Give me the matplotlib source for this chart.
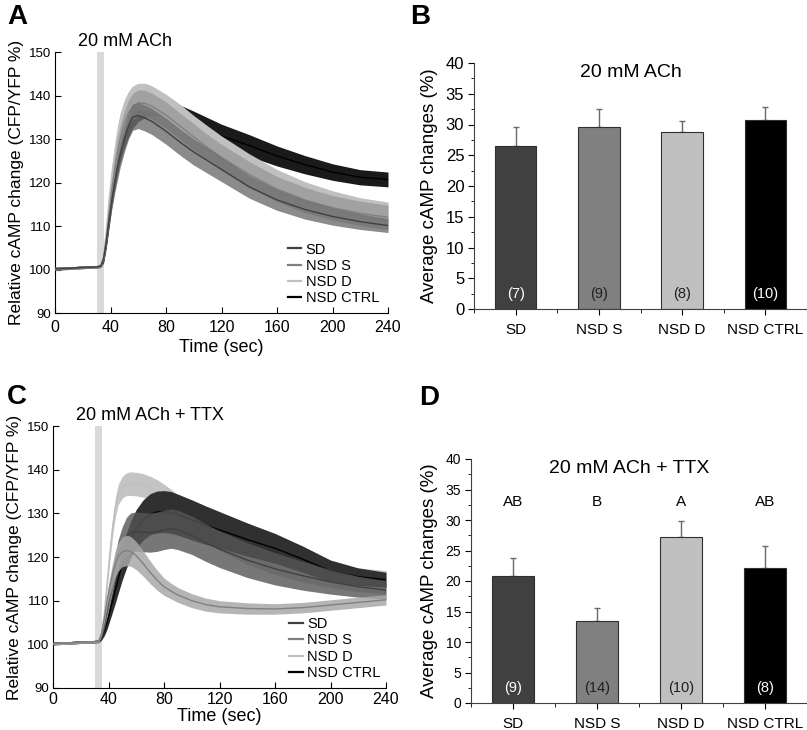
import numpy as np
import matplotlib
matplotlib.use("Agg")
import matplotlib.pyplot as plt
from matplotlib.lines import Line2D
from matplotlib.ticker import MultipleLocator, FixedLocator

plt.rcParams['font.family'] = ['Liberation Sans', 'DejaVu Sans']

groups = ['SD', 'NSD S', 'NSD D', 'NSD CTRL']
line_colors = ['#404040', '#808080', '#c0c0c0', '#000000']
bar_colors = ['#404040', '#808080', '#c0c0c0', '#000000']

# ---- panel A: 20 mM ACh time course (mean and sem)
t_a = [0, 10, 20, 30, 33, 35, 37, 39, 41, 43, 45, 47, 50, 53, 56, 60, 65, 70,
       80, 90, 100, 110, 120, 140, 160, 180, 200, 220, 240]
sd_a = [100.2, 100.3, 100.5, 100.6, 100.8, 102.5, 106.5, 111.5, 116, 120, 123.5, 126.5,
        130, 133, 135, 135.4, 134.8, 134, 131.8, 129.3, 127, 125, 123, 119, 116,
        113.8, 112.2, 111, 110.1]
sd_a_err = [0.3, 0.3, 0.3, 0.3, 0.3, 0.5, 1, 1.5, 2, 2.5, 3, 3, 3, 3, 3, 3, 3, 3,
            3, 3, 3, 2.9, 2.8, 2.6, 2.4, 2.2, 2, 1.8, 1.6]
nsds_a = [100.2, 100.3, 100.5, 100.6, 100.8, 102.5, 107, 113, 118.5, 123, 127, 130,
          133.5, 136, 137.5, 138.3, 138.2, 137.5, 135.5, 133, 130.5, 128, 125.8, 121.8,
          118.5, 116, 114.2, 112.9, 112]
nsds_a_err = [0.3, 0.3, 0.3, 0.3, 0.3, 0.5, 1, 1.5, 2, 2.5, 3, 3, 3, 3, 3, 3, 3, 3,
              3, 3, 3, 3, 3, 3, 2.9, 2.9, 2.8, 2.8, 2.8]
nsdd_a = [100.2, 100.3, 100.5, 100.6, 100.8, 103, 109, 116, 122, 126.5, 130, 133,
          136, 138, 139.2, 139.8, 139.8, 139.2, 137.3, 135, 132.5, 130.2, 128, 124,
          120.5, 117.8, 115.8, 114.3, 113.3]
nsdd_a_err = [0.3, 0.3, 0.3, 0.3, 0.3, 0.5, 1, 1.5, 2, 2.5, 3, 3, 3, 3, 3, 3, 3, 3,
              3, 3, 2.9, 2.8, 2.7, 2.6, 2.5, 2.4, 2.3, 2.2, 2.2]
ctrl_a = [100.2, 100.3, 100.5, 100.6, 100.8, 102, 106, 111, 116, 120, 123.5, 126.5,
          130, 132.5, 134.5, 136, 137, 137.5, 137, 135.5, 133.8, 132.2, 130.7, 128.5,
          126.1, 124.1, 122.4, 121.2, 120.7]
ctrl_a_err = [0.3, 0.3, 0.3, 0.3, 0.3, 0.5, 1, 1.2, 1.5, 1.7, 1.8, 1.9, 2, 2, 2, 2, 2, 2,
              2, 2.3, 2.6, 2.7, 2.7, 2.5, 2.3, 2.1, 1.9, 1.75, 1.7]

# ---- panel C: 20 mM ACh + TTX time course
t_c = [0, 10, 20, 30, 33, 35, 37, 39, 41, 43, 45, 47, 50, 53, 56, 60, 65, 70, 75,
       80, 85, 90, 100, 110, 120, 140, 160, 180, 200, 220, 240]
sd_c = [100.2, 100.3, 100.5, 100.6, 100.7, 102, 104.5, 108, 111.5, 115, 118, 120.5,
        123, 124.8, 125.6, 125.8, 125.7, 125.6, 125.8, 126.2, 126.5, 126.2, 125, 123.3,
        121.8, 119.3, 117.3, 115.7, 114.3, 113.2, 112.4]
sd_c_err = [0.3, 0.3, 0.3, 0.3, 0.3, 0.5, 1, 1.5, 2, 2.5, 3, 3.5, 4, 4.3, 4.5, 4.5,
            4.5, 4.5, 4.5, 4.5, 4.5, 4.5, 4.4, 4.3, 4.2, 4, 3.7, 3.3, 2.8, 2.4, 2.1]
nsds_c = [100.2, 100.3, 100.5, 100.6, 100.7, 102.5, 106, 110, 113.5, 116.3, 118.5, 120,
          121.2, 121.5, 121.3, 120.3, 118.5, 116.5, 114.7, 113.2, 112.2, 111.3, 110,
          109.1, 108.6, 108.2, 108.1, 108.4, 109, 109.6, 110.2]
nsds_c_err = [0.3, 0.3, 0.3, 0.3, 0.3, 0.5, 1, 1.5, 2, 2.5, 3, 3.2, 3.4, 3.5, 3.4, 3.2,
              2.9, 2.6, 2.3, 2, 1.8, 1.7, 1.6, 1.5, 1.4, 1.3, 1.2, 1.2, 1.2, 1.2, 1.2]
nsdd_c = [100.2, 100.3, 100.5, 100.6, 100.7, 102, 107, 114, 121, 127, 131.5, 134.3,
          136, 136.7, 136.8, 136.7, 136.4, 135.8, 135, 134, 132.8, 131.5, 128.8, 126.3,
          124.2, 121, 118.7, 117, 115.7, 114.8, 114.2]
nsdd_c_err = [0.3, 0.3, 0.3, 0.3, 0.3, 0.5, 1, 1.5, 2, 2, 2.2, 2.3, 2.5, 2.6, 2.7, 2.7,
              2.7, 2.7, 2.7, 2.7, 2.7, 2.7, 2.7, 2.7, 2.7, 2.7, 2.7, 2.7, 2.7, 2.7, 2.7]
ctrl_c = [100.2, 100.3, 100.5, 100.6, 100.7, 101.5, 103, 105, 107.5, 110, 112.5, 115,
          118.5, 121.5, 124, 126.5, 128.5, 129.8, 130.3, 130.4, 130.2, 129.7, 128.5,
          127.3, 126.2, 124, 122, 119.5, 116.8, 115.5, 114.8]
ctrl_c_err = [0.3, 0.3, 0.3, 0.3, 0.3, 0.5, 1, 1.5, 2, 2.5, 3, 3.3, 3.7, 4, 4.2, 4.4,
              4.6, 4.7, 4.8, 4.8, 4.8, 4.7, 4.6, 4.4, 4.2, 3.8, 3.4, 3, 2.5, 2, 1.7]

# ---- bar panels
b_means = [26.5, 29.6, 28.7, 30.7]
b_err = [3.1, 3.0, 1.9, 2.1]
b_n = ['(7)', '(9)', '(8)', '(10)']
d_means = [20.8, 13.5, 27.2, 22.1]
d_err = [3.0, 2.0, 2.7, 3.6]
d_n = ['(9)', '(14)', '(10)', '(8)']
d_letters = ['AB', 'B', 'A', 'AB']

W, H = 807, 730
fig = plt.figure(figsize=(W / 100, H / 100), dpi=100)


def px_axes(l, t, r, b):
    return fig.add_axes([l / W, 1 - b / H, (r - l) / W, (b - t) / H])


def trace_panel(ax, t, series, order, title, fills, legend_xy, xpad):
    ax.axvspan(30, 35, color='#d9d9d9', lw=0, zorder=0)
    # each band with its mean line, later groups cover earlier ones
    for j, k in enumerate(order):
        m, e = np.array(series[k][0]), np.array(series[k][1])
        col, al = fills[k]
        ax.fill_between(t, m - e, m + e, color=col, alpha=al, lw=0, zorder=1 + 2 * j)
        ax.plot(t, m, color=line_colors[k], lw=1.0, zorder=2 + 2 * j)
    ax.set_xlim(0, 240)
    ax.set_ylim(90, 150)
    ax.set_xticks(range(0, 241, 40))
    ax.set_yticks(range(90, 151, 10))
    ax.tick_params(axis='y', direction='in', length=4, labelsize=9.5, pad=3)
    ax.tick_params(axis='x', direction='in', length=4, labelsize=11.5, pad=xpad)
    for s in ['top', 'right']:
        ax.spines[s].set_visible(False)
    ax.set_xlabel('Time (sec)', fontsize=13)
    ax.set_ylabel('Relative cAMP change (CFP/YFP %)', fontsize=12.5)
    ax.yaxis.set_label_coords(-0.093, 0.5)
    handles = [Line2D([], [], color=c, lw=1.6) for c in line_colors]
    ax.legend(handles, groups, loc='upper left', bbox_to_anchor=legend_xy, frameon=False,
              fontsize=10.5, handlelength=0.9, handletextpad=0.3, labelspacing=0.15,
              borderpad=0, borderaxespad=0)
    ax.text(0.07, 1.04, title, transform=ax.transAxes, fontsize=13, ha='left', va='center')


def bar_panel(ax, means, err, ns, title, title_y, ylab_x, tick_size):
    x = np.arange(len(groups))
    ax.bar(x, means, width=0.5, color=bar_colors, edgecolor='#303030', lw=0.8, zorder=2)
    ax.errorbar(x, means, yerr=[np.zeros(len(err)), err], fmt='none', ecolor='#6a6a6a',
                elinewidth=1.0, capsize=2.5, capthick=1.0, zorder=1)
    for i, lab in enumerate(ns):
        tc = 'white' if bar_colors[i] in ('#404040', '#000000') else '#202020'
        ax.text(x[i], 2.5, lab, ha='center', va='center', color=tc, fontsize=10.5, zorder=3)
    ax.set_xlim(-0.5, 3.5)
    ax.set_ylim(0, 40)
    ax.set_xticks(x)
    ax.set_xticklabels(groups, fontsize=11)
    ax.xaxis.set_minor_locator(FixedLocator([-0.5, 0.5, 1.5, 2.5, 3.5]))
    ax.yaxis.set_major_locator(MultipleLocator(5))
    ax.yaxis.set_minor_locator(MultipleLocator(2.5))
    ax.tick_params(axis='y', which='major', direction='out', length=4, labelsize=tick_size, pad=3)
    ax.tick_params(axis='y', which='minor', direction='out', length=2.5)
    ax.tick_params(axis='x', which='major', direction='out', length=4, pad=6)
    ax.tick_params(axis='x', which='minor', direction='out', length=3)
    for s in ['top', 'right']:
        ax.spines[s].set_visible(False)
    for s in ['left', 'bottom']:
        ax.spines[s].set_color('#404040')
    ax.set_ylabel('Average cAMP changes (%)', fontsize=13.5)
    ax.yaxis.set_label_coords(ylab_x, 0.5)
    ax.text(0.47, title_y, title, transform=ax.transAxes, fontsize=14, ha='center', va='center')


# A
ax_a = px_axes(55, 52, 388, 313)
series_a = [(sd_a, sd_a_err), (nsds_a, nsds_a_err), (nsdd_a, nsdd_a_err), (ctrl_a, ctrl_a_err)]
fills_a = {0: ('#6e6e6e', 0.8), 1: ('#9c9c9c', 0.85), 2: ('#c0c0c0', 1.0), 3: ('#1a1a1a', 1.0)}
trace_panel(ax_a, t_a, series_a, [3, 2, 1, 0], '20 mM ACh', fills_a, (0.70, 0.27), 5)
ax_a.xaxis.set_label_coords(0.5, -0.1)

# C
ax_c = px_axes(53, 426, 386, 688)
series_c = [(sd_c, sd_c_err), (nsds_c, nsds_c_err), (nsdd_c, nsdd_c_err), (ctrl_c, ctrl_c_err)]
fills_c = {0: ('#555555', 0.8), 1: ('#a8a8a8', 0.85), 2: ('#c4c4c4', 1.0), 3: ('#303030', 1.0)}
trace_panel(ax_c, t_c, series_c, [2, 3, 0, 1], '20 mM ACh + TTX', fills_c, (0.71, 0.27), 3)
ax_c.xaxis.set_label_coords(0.5, -0.075)

# B
ax_b = px_axes(474, 63, 807, 309)
bar_panel(ax_b, b_means, b_err, b_n, '20 mM ACh', 0.96, -0.108, 12)

# D
ax_d = px_axes(471, 459, 807, 703)
bar_panel(ax_d, d_means, d_err, d_n, '20 mM ACh + TTX', 0.96, -0.098, 10)
for i, lt in enumerate(d_letters):
    ax_d.text(i, 33, lt, ha='center', va='center', fontsize=11)

# panel letters
for lab, xp, yp in [('A', 17, 17), ('B', 420, 17), ('C', 17, 397), ('D', 429, 398)]:
    fig.text(xp / W, 1 - yp / H, lab, fontsize=20, fontweight='bold', ha='center', va='center')

fig.savefig('out.png', dpi=100)
